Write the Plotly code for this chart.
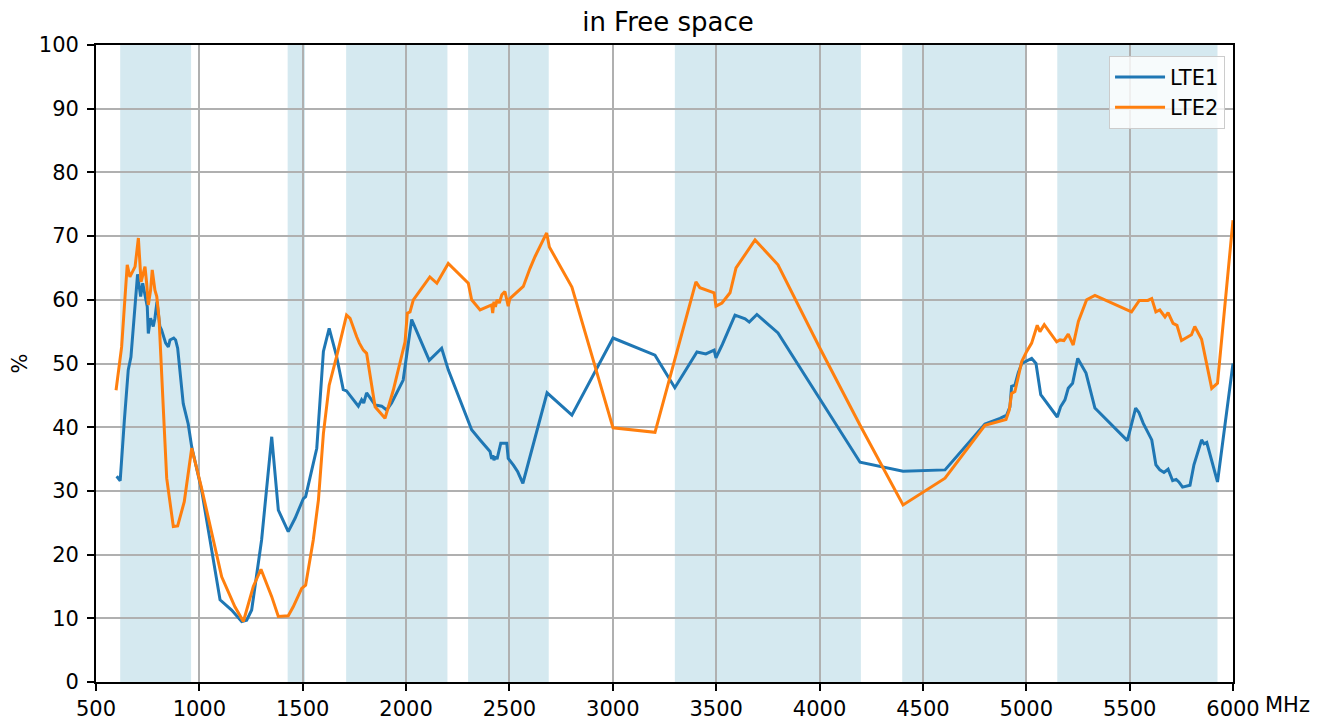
import plotly.graph_objects as go

# ---- data ----
lte1_x = [600, 617, 637, 656, 669, 689, 701, 716, 726, 748, 753, 764, 777, 785, 795, 809, 817, 837, 850, 858,
          876, 885, 895, 922, 946, 963, 1011, 1100, 1156, 1205, 1229, 1253, 1301, 1350, 1382, 1430, 1463, 1503,
          1514, 1568, 1600, 1628, 1664, 1696, 1712, 1769, 1785, 1795, 1809, 1850, 1882, 1906, 1930, 1986, 1999,
          2027, 2112, 2172, 2204, 2301, 2317, 2358, 2390, 2406, 2414, 2420, 2425, 2432, 2440, 2458, 2487, 2494,
          2520, 2540, 2565, 2682, 2802, 3001, 3204, 3300, 3407, 3450, 3490, 3499, 3530, 3591, 3640, 3660, 3697,
          3799, 4196, 4404, 4607, 4800, 4873, 4905, 4921, 4929, 4945, 4961, 4978, 5026, 5047, 5070, 5150, 5166,
          5187, 5203, 5224, 5249, 5289, 5332, 5489, 5529, 5545, 5566, 5607, 5627, 5646, 5666, 5686, 5708, 5725,
          5738, 5756, 5792, 5811, 5848, 5860, 5873, 5925, 6000]
lte1_y = [32.3, 31.6, 41.0, 49.0, 51.0, 59.0, 64.0, 60.5, 62.6, 58.9, 54.7, 57.1, 55.8, 57.1, 59.7, 55.8, 55.3,
          53.2, 52.6, 53.7, 54.0, 53.7, 52.4, 43.7, 40.5, 36.9, 30.1, 12.9, 11.3, 9.5, 9.7, 11.3, 22.3, 38.5,
          27.0, 23.6, 25.7, 28.8, 29.1, 36.7, 51.9, 55.5, 51.1, 45.9, 45.7, 43.3, 44.3, 43.8, 45.4, 43.5, 43.3,
          42.7, 43.8, 47.4, 50.5, 56.9, 50.5, 52.4, 49.0, 41.1, 39.6, 38.0, 36.9, 36.2, 35.0, 35.6, 34.8, 35.4,
          35.0, 37.5, 37.5, 35.1, 34.0, 33.0, 31.2, 45.4, 41.9, 54.0, 51.3, 46.2, 51.8, 51.5, 52.1, 50.9, 53.0,
          57.6, 57.0, 56.5, 57.7, 54.8, 34.5, 33.1, 33.3, 40.5, 41.4, 41.9, 43.2, 46.4, 46.6, 48.5, 50.0, 50.8,
          50.0, 45.1, 41.6, 43.2, 44.3, 46.1, 46.9, 50.8, 48.5, 43.0, 37.9, 43.0, 42.3, 40.6, 38.0, 34.1, 33.3,
          32.9, 33.4, 31.6, 31.8, 31.4, 30.6, 30.9, 34.1, 38.0, 37.4, 37.6, 31.4, 50.0]

lte2_x = [597, 624, 651, 664, 689, 705, 718, 737, 745, 753, 764, 772, 785, 794, 805, 818, 830, 842, 874, 895,
          927, 963, 1011, 1108, 1172, 1213, 1237, 1261, 1298, 1350, 1382, 1430, 1454, 1495, 1514, 1551, 1576,
          1600, 1628, 1664, 1712, 1729, 1761, 1774, 1793, 1809, 1850, 1898, 1938, 1995, 2006, 2019, 2035, 2115,
          2149, 2204, 2301, 2317, 2358, 2390, 2414, 2419, 2425, 2432, 2440, 2451, 2463, 2478, 2494, 2502, 2559,
          2567, 2599, 2624, 2680, 2693, 2802, 3001, 3204, 3402, 3421, 3490, 3499, 3528, 3567, 3596, 3688, 3799,
          4002, 4196, 4404, 4607, 4800, 4873, 4902, 4918, 4929, 4945, 4978, 5002, 5026, 5053, 5066, 5087, 5147,
          5163, 5182, 5203, 5227, 5252, 5292, 5332, 5509, 5547, 5588, 5607, 5627, 5646, 5671, 5686, 5710, 5729,
          5751, 5799, 5815, 5848, 5897, 5925, 6000]
lte2_y = [45.8, 52.6, 65.5, 63.6, 65.2, 69.7, 62.8, 65.2, 62.6, 59.2, 61.5, 64.7, 61.5, 60.5, 57.0, 47.0, 40.0,
          32.0, 24.4, 24.5, 28.3, 36.7, 30.4, 16.5, 11.8, 9.5, 12.4, 15.0, 17.7, 13.4, 10.3, 10.4, 11.8, 14.7,
          15.2, 22.3, 28.6, 39.0, 46.6, 51.1, 57.6, 57.1, 54.2, 53.2, 52.1, 51.6, 43.2, 41.4, 45.8, 53.4, 57.9,
          58.1, 60.0, 63.6, 62.6, 65.7, 62.6, 60.0, 58.4, 58.8, 59.2, 57.9, 59.7, 58.9, 60.0, 59.5, 60.8, 61.3,
          59.0, 60.2, 61.8, 62.1, 64.9, 66.8, 70.5, 68.3, 62.0, 39.9, 39.2, 62.8, 61.9, 61.1, 59.0, 59.5, 61.1,
          65.0, 69.4, 65.5, 52.4, 40.3, 27.8, 32.0, 40.3, 41.0, 41.2, 42.7, 45.3, 45.6, 50.3, 51.9, 53.2, 56.0,
          55.0, 56.1, 53.4, 53.7, 53.6, 54.6, 52.9, 56.6, 60.0, 60.7, 58.1, 59.9, 59.9, 60.2, 58.1, 58.4, 57.3,
          58.0, 56.3, 56.0, 53.6, 54.5, 55.8, 53.8, 46.1, 46.9, 72.5]

band_starts = [617, 1427, 1710, 2300, 3300, 4400, 5150]
band_ends = [960, 1511, 2200, 2690, 4200, 5000, 5925]

x_tickvals = [500, 1000, 1500, 2000, 2500, 3000, 3500, 4000, 4500, 5000, 5500, 6000]
x_ticktext = ["500", "1000", "1500", "2000", "2500", "3000", "3500", "4000", "4500", "5000", "5500", "6000"]
y_tickvals = [0, 10, 20, 30, 40, 50, 60, 70, 80, 90, 100]

FONT = "DejaVu Sans"

fig = go.Figure()
fig.add_trace(go.Scatter(x=lte1_x, y=lte1_y, mode="lines", name="LTE1", legendgroup="g1",
                         line=dict(color="#1f77b4", width=3)))
fig.add_trace(go.Scatter(x=lte2_x, y=lte2_y, mode="lines", name="LTE2", legendgroup="g2",
                         line=dict(color="#ff7f0e", width=3)))

for s, e in zip(band_starts, band_ends):
    fig.add_vrect(x0=s, x1=e, fillcolor="#d5e9f0", opacity=1, line_width=0, layer="below")

fig.add_annotation(text="MHz", x=1.0, y=0, xref="paper", yref="paper", xanchor="left", yanchor="top",
                   xshift=30, yshift=-9, showarrow=False, font=dict(family=FONT, size=21, color="black"))

fig.update_layout(
    width=1320, height=712,
    margin=dict(l=88, r=95, t=37, b=38, autoexpand=False),
    paper_bgcolor="white", plot_bgcolor="white",
    font=dict(family=FONT, size=21, color="black"),
    title=dict(text="in Free space", x=0.5, xanchor="center", y=0.980, yanchor="middle",
               font=dict(family=FONT, size=26, color="black")),
    showlegend=True,
    legend=dict(x=0.993, y=0.983, xanchor="right", yanchor="top",
                bgcolor="rgba(255,255,255,0.8)", bordercolor="#cccccc", borderwidth=1,
                font=dict(family=FONT, size=21, color="black"), tracegroupgap=0,
                itemwidth=50),
)
fig.update_xaxes(range=[500, 6000], tickvals=x_tickvals, ticktext=x_ticktext, automargin=False,
                 showgrid=True, gridcolor="#b0b0b0", gridwidth=1.7,
                 showline=True, linecolor="black", linewidth=1.7, mirror=True,
                 ticks="outside", ticklen=7, tickwidth=1.7, tickcolor="black", ticklabelstandoff=0,
                 zeroline=False, tickfont=dict(family=FONT, size=21, color="black"))
fig.update_yaxes(range=[0, 100], tickvals=y_tickvals, automargin=False,
                 showgrid=True, gridcolor="#b0b0b0", gridwidth=1.7,
                 showline=True, linecolor="black", linewidth=1.7, mirror=True,
                 ticks="outside", ticklen=7, tickwidth=1.7, tickcolor="black", ticklabelstandoff=4,
                 zeroline=False, tickfont=dict(family=FONT, size=21, color="black"),
                 title=dict(text="%", font=dict(family=FONT, size=21, color="black"), standoff=8))

fig.write_html("out.html")
